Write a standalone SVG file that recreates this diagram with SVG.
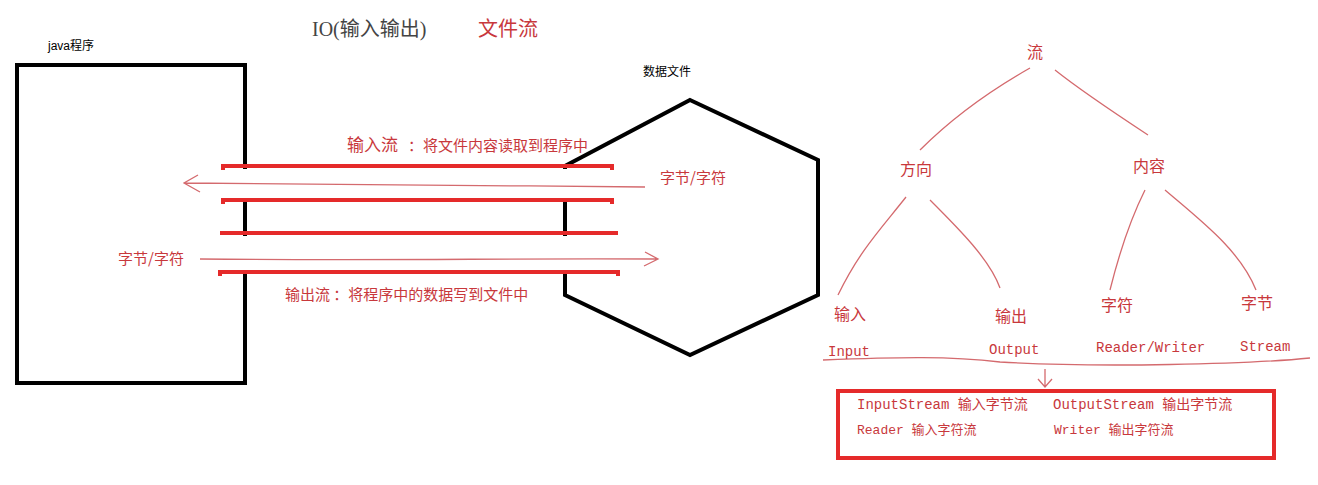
<svg xmlns="http://www.w3.org/2000/svg" width="1318" height="485" viewBox="0 0 1318 485">
<style>
.cn{font-family:"Noto Sans CJK SC","Liberation Sans",sans-serif;fill:#c8383c}
.mono{font-family:"Liberation Mono","Noto Sans CJK SC",monospace;fill:#c8383c}
.thin{fill:none;stroke:#d46a6e;stroke-width:1.3}
.bar{stroke:#e52a2a;stroke-width:4;fill:none}
</style>
<rect width="1318" height="485" fill="#fff"/>
<text x="312" y="36" font-family="Liberation Serif,Noto Sans CJK SC,serif" font-size="20" fill="#444">IO(输入输出)</text>
<text x="478" y="36" class="cn" font-size="20">文件流</text>
<g id="java">
<rect x="17" y="65" width="228" height="318" fill="none" stroke="#000" stroke-width="4"/>
<text x="48" y="50" font-family="Liberation Sans,Noto Sans CJK SC,sans-serif" font-size="12" fill="#000">java程序</text>
</g>
<g id="file">
<polygon points="690,100 818,160 818,295 690,355 565,295 565,166" fill="none" stroke="#000" stroke-width="4"/>
<text x="643" y="76" font-family="Liberation Sans,Noto Sans CJK SC,sans-serif" font-size="12" fill="#000">数据文件</text>
</g>
<rect x="230" y="169" width="400" height="29" fill="#fff"/>
<rect x="230" y="236" width="400" height="34" fill="#fff"/>
<g id="connectors">
<path class="bar" d="M223,170 V166 H612 V170 M223,204 V200 H612 V204 M220,233 H618 M220,276 V272 H618 V276"/>
<path class="thin" d="M645,187 C500,186 400,184 185,183 M198,175 L184,183 L200,192"/>
<path class="thin" d="M200,259 C400,261 500,258 657,259 M645,252 L658,259 L644,266"/>
<path class="thin" d="M1030,68 C1000,85 960,110 920,150 M1055,70 C1080,90 1110,110 1148,135"/>
<path class="thin" d="M906,197 C880,230 860,250 838,295 M930,200 C960,230 990,260 1000,288"/>
<path class="thin" d="M1145,190 C1130,220 1120,250 1110,290 M1165,190 C1200,220 1240,250 1256,290"/>
<path class="thin" d="M823,360 C900,357 950,356 1000,362 C1100,368 1250,364 1310,358"/>
<path class="thin" d="M1045,369 V386 M1038,379 L1045,387 L1052,379"/>
</g>
<g id="labels">
<text x="347" y="151" class="cn" font-size="17">输入流</text>
<text x="408" y="151" class="cn" font-size="15">：将文件内容读取到程序中</text>
<text x="285" y="300" class="cn" font-size="15">输出流 ：将程序中的数据写到文件中</text>
<text x="660" y="183" class="cn" font-size="15">字节/字符</text>
<text x="118" y="264" class="cn" font-size="15">字节/字符</text>
</g>
<g id="tree" font-size="16">
<text x="1027" y="58" class="cn">流</text>
<text x="900" y="175" class="cn">方向</text>
<text x="1133" y="172" class="cn">内容</text>
<text x="834" y="320" class="cn">输入</text>
<text x="995" y="322" class="cn">输出</text>
<text x="1101" y="311" class="cn">字符</text>
<text x="1241" y="309" class="cn">字节</text>
<text x="828" y="356" class="mono" font-size="14">Input</text>
<text x="989" y="354" class="mono" font-size="14">Output</text>
<text x="1096" y="352" class="mono" font-size="14">Reader/Writer</text>
<text x="1240" y="351" class="mono" font-size="14">Stream</text>
</g>
<g id="box">
<rect x="838" y="391" width="436" height="67" fill="none" stroke="#e52a2a" stroke-width="4"/>
<text x="857" y="409" class="mono" font-size="14">InputStream 输入字节流</text>
<text x="1053" y="409" class="mono" font-size="14">OutputStream 输出字节流</text>
<text x="857" y="434" class="mono" font-size="13">Reader 输入字符流</text>
<text x="1054" y="434" class="mono" font-size="13">Writer 输出字符流</text>
</g>
</svg>
